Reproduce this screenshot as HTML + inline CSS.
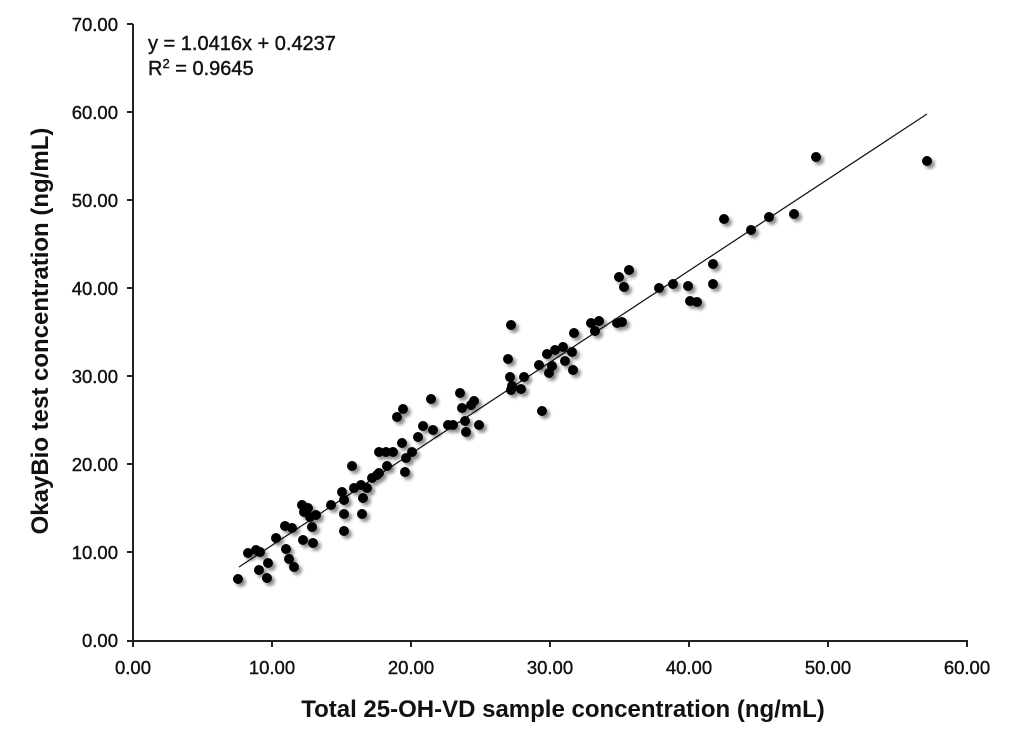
<!DOCTYPE html>
<html><head><meta charset="utf-8"><style>
html,body{margin:0;padding:0;background:#fff;}
svg{display:block;font-family:"Liberation Sans",sans-serif;}
</style></head><body>
<svg width="1033" height="735" viewBox="0 0 1033 735" xmlns="http://www.w3.org/2000/svg">
<defs>
<filter id="sh" x="-50%" y="-50%" width="250%" height="250%">
<feGaussianBlur in="SourceAlpha" stdDeviation="1.6"/>
<feOffset dx="3" dy="3" result="b"/>
<feComponentTransfer><feFuncA type="linear" slope="0.45"/></feComponentTransfer>
<feMerge><feMergeNode/><feMergeNode in="SourceGraphic"/></feMerge>
</filter>
</defs>
<g stroke="#222" stroke-width="2" fill="none">
<line x1="133" y1="24" x2="133" y2="641"/>
<line x1="132" y1="641" x2="968" y2="641"/>
<line x1="127" y1="24" x2="133" y2="24"/>
<line x1="127" y1="112" x2="133" y2="112"/>
<line x1="127" y1="200" x2="133" y2="200"/>
<line x1="127" y1="288" x2="133" y2="288"/>
<line x1="127" y1="376" x2="133" y2="376"/>
<line x1="127" y1="464" x2="133" y2="464"/>
<line x1="127" y1="552" x2="133" y2="552"/>
<line x1="127" y1="641" x2="133" y2="641"/>
<line x1="133" y1="641" x2="133" y2="647"/>
<line x1="272" y1="641" x2="272" y2="647"/>
<line x1="411" y1="641" x2="411" y2="647"/>
<line x1="550" y1="641" x2="550" y2="647"/>
<line x1="689" y1="641" x2="689" y2="647"/>
<line x1="828" y1="641" x2="828" y2="647"/>
<line x1="967" y1="641" x2="967" y2="647"/>
</g>
<g font-size="18.5" fill="#111" stroke="#111" stroke-width="0.4" text-anchor="end">
<text x="118" y="31">70.00</text>
<text x="118" y="119">60.00</text>
<text x="118" y="207">50.00</text>
<text x="118" y="295">40.00</text>
<text x="118" y="383">30.00</text>
<text x="118" y="471">20.00</text>
<text x="118" y="559">10.00</text>
<text x="118" y="647">0.00</text>
</g>
<g font-size="18.5" fill="#111" stroke="#111" stroke-width="0.4" text-anchor="middle">
<text x="133" y="674">0.00</text>
<text x="272" y="674">10.00</text>
<text x="411" y="674">20.00</text>
<text x="550" y="674">30.00</text>
<text x="689" y="674">40.00</text>
<text x="828" y="674">50.00</text>
<text x="967" y="674">60.00</text>
</g>
<text x="563" y="717" font-size="24" font-weight="bold" text-anchor="middle" fill="#111">Total 25-OH-VD  sample concentration (ng/mL)</text>
<text transform="translate(48,331) rotate(-90)" font-size="24" font-weight="bold" text-anchor="middle" fill="#111">OkayBio test concentration (ng/mL)</text>
<text x="148" y="50" font-size="20" fill="#111" stroke="#111" stroke-width="0.4">y = 1.0416x + 0.4237</text>
<text x="148" y="75" font-size="20" fill="#111" stroke="#111" stroke-width="0.4">R<tspan font-size="13" dy="-7">2</tspan><tspan dy="7"> = 0.9645</tspan></text>
<line x1="239" y1="567" x2="927" y2="114" stroke="#111" stroke-width="1.2"/>
<g fill="#000" filter="url(#sh)">
<circle cx="238" cy="579" r="5"/><circle cx="248" cy="553" r="5"/><circle cx="256" cy="550" r="5"/><circle cx="260" cy="552" r="5"/><circle cx="259" cy="570" r="5"/><circle cx="268" cy="563" r="5"/><circle cx="267" cy="578" r="5"/><circle cx="276" cy="538" r="5"/><circle cx="285" cy="526" r="5"/><circle cx="292" cy="528" r="5"/><circle cx="286" cy="549" r="5"/><circle cx="289" cy="559" r="5"/><circle cx="294" cy="567" r="5"/><circle cx="302" cy="505" r="5"/><circle cx="304" cy="512" r="5"/><circle cx="303" cy="540" r="5"/><circle cx="308" cy="508" r="5"/><circle cx="310" cy="517" r="5"/><circle cx="312" cy="527" r="5"/><circle cx="313" cy="543" r="5"/><circle cx="316" cy="515" r="5"/><circle cx="331" cy="505" r="5"/><circle cx="342" cy="492" r="5"/><circle cx="344" cy="500" r="5"/><circle cx="344" cy="514" r="5"/><circle cx="344" cy="531" r="5"/><circle cx="352" cy="466" r="5"/><circle cx="354" cy="488" r="5"/><circle cx="361" cy="485" r="5"/><circle cx="362" cy="514" r="5"/><circle cx="363" cy="498" r="5"/><circle cx="367" cy="488" r="5"/><circle cx="372" cy="478" r="5"/><circle cx="377" cy="475" r="5"/><circle cx="379" cy="452" r="5"/><circle cx="386" cy="452" r="5"/><circle cx="387" cy="466" r="5"/><circle cx="379" cy="473" r="5"/><circle cx="393" cy="452" r="5"/><circle cx="397" cy="417" r="5"/><circle cx="403" cy="409" r="5"/><circle cx="402" cy="443" r="5"/><circle cx="405" cy="472" r="5"/><circle cx="406" cy="458" r="5"/><circle cx="412" cy="452" r="5"/><circle cx="418" cy="437" r="5"/><circle cx="423" cy="426" r="5"/><circle cx="431" cy="399" r="5"/><circle cx="433" cy="430" r="5"/><circle cx="448" cy="425" r="5"/><circle cx="453" cy="425" r="5"/><circle cx="460" cy="393" r="5"/><circle cx="462" cy="408" r="5"/><circle cx="465" cy="421" r="5"/><circle cx="466" cy="432" r="5"/><circle cx="471" cy="405" r="5"/><circle cx="474" cy="401" r="5"/><circle cx="479" cy="425" r="5"/><circle cx="508" cy="359" r="5"/><circle cx="510" cy="377" r="5"/><circle cx="511" cy="390" r="5"/><circle cx="512" cy="386" r="5"/><circle cx="521" cy="389" r="5"/><circle cx="524" cy="377" r="5"/><circle cx="539" cy="365" r="5"/><circle cx="542" cy="411" r="5"/><circle cx="547" cy="354" r="5"/><circle cx="549" cy="373" r="5"/><circle cx="552" cy="366" r="5"/><circle cx="555" cy="350" r="5"/><circle cx="563" cy="347" r="5"/><circle cx="565" cy="361" r="5"/><circle cx="572" cy="352" r="5"/><circle cx="573" cy="370" r="5"/><circle cx="574" cy="333" r="5"/><circle cx="511" cy="325" r="5"/><circle cx="591" cy="323" r="5"/><circle cx="595" cy="331" r="5"/><circle cx="599" cy="321" r="5"/><circle cx="617" cy="323" r="5"/><circle cx="622" cy="322" r="5"/><circle cx="619" cy="277" r="5"/><circle cx="624" cy="287" r="5"/><circle cx="629" cy="270" r="5"/><circle cx="659" cy="288" r="5"/><circle cx="673" cy="284" r="5"/><circle cx="688" cy="286" r="5"/><circle cx="690" cy="301" r="5"/><circle cx="697" cy="302" r="5"/><circle cx="713" cy="284" r="5"/><circle cx="713" cy="264" r="5"/><circle cx="724" cy="219" r="5"/><circle cx="751" cy="230" r="5"/><circle cx="769" cy="217" r="5"/><circle cx="794" cy="214" r="5"/><circle cx="816" cy="157" r="5"/><circle cx="927" cy="161" r="5"/>
</g>
</svg>
</body></html>
